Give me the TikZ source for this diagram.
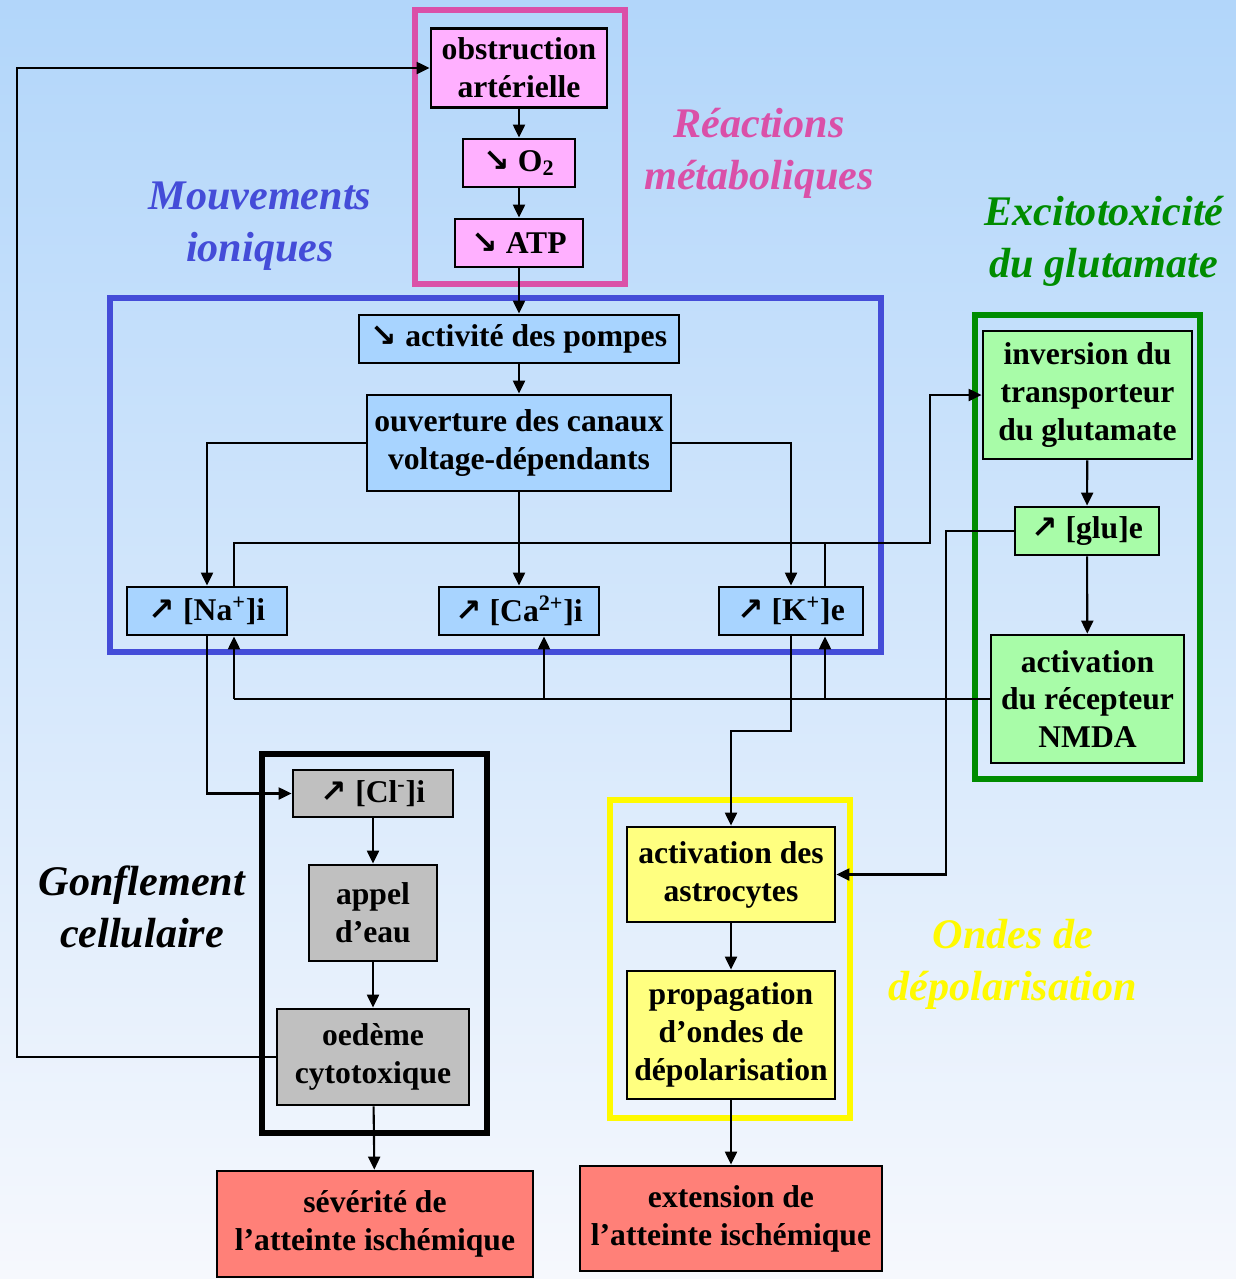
\documentclass[tikz,border=0pt]{standalone}
\usepackage{fontspec}
\setmainfont{Liberation Serif}
\newfontfamily\arrowfont{DejaVu Sans}
\usetikzlibrary{arrows.meta}

\definecolor{bgtop}{RGB}{178,214,250}
\definecolor{bgbot}{RGB}{246,248,253}
\definecolor{metab}{RGB}{218,80,168}
\definecolor{ionic}{RGB}{68,76,216}
\definecolor{excito}{RGB}{0,140,0}
\definecolor{ondes}{RGB}{255,250,0}
\definecolor{pinkfill}{RGB}{255,176,255}
\definecolor{bluefill}{RGB}{168,212,255}
\definecolor{greenfill}{RGB}{168,252,168}
\definecolor{greyfill}{RGB}{192,192,192}
\definecolor{yellowfill}{RGB}{255,255,128}
\definecolor{redfill}{RGB}{255,128,120}

\newcommand{\baisse}{{\arrowfont\char"2198}}
\newcommand{\hausse}{{\arrowfont\char"2197}}

\begin{document}
\begin{tikzpicture}[x=0.02cm,y=-0.02cm,
  box/.style={draw=black,line width=1.6pt,inner sep=0pt,align=center,
    font=\fontsize{18}{21.6}\selectfont\bfseries},
  pinkbox/.style={box,fill=pinkfill},
  bluebox/.style={box,fill=bluefill},
  greenbox/.style={box,fill=greenfill},
  greybox/.style={box,fill=greyfill},
  yellowbox/.style={box,fill=yellowfill},
  redbox/.style={box,fill=redfill},
  frame/.style={line width=3.2pt},
  title/.style={align=center,font=\fontsize{24}{29.5}\selectfont\bfseries\itshape},
  link/.style={line width=1.2pt,-{Triangle[length=0.26cm,width=0.24cm]}},
  plain/.style={line width=1.2pt}]

\useasboundingbox (0,0) rectangle (1236,1279);
\shade[top color=bgtop,bottom color=bgbot] (0,0) rectangle (1236,1279);

% group frames
\draw[frame,metab] (415,10) rectangle (625,284);
\draw[frame,ionic] (110,298) rectangle (881,652);
\draw[frame,excito] (975,315) rectangle (1200,779);
\draw[frame,black,line width=3.6pt] (262,754) rectangle (487,1133);
\draw[frame,ondes] (610,800) rectangle (850,1118);

% group titles
\node[title,metab] (tMetab) at (759,153) {Réactions\\métaboliques};
\node[title,ionic] (tIonic) at (260,226) {Mouvements\\ioniques};
\node[title,excito] (tExcito) at (1104,241) {Excitotoxicité\\du glutamate};
\node[title,black] (tGonfl) at (142,907) {Gonflement\\cellulaire};
\node[title,ondes] (tOndes) at (1013,964) {Ondes de\\dépolarisation};

% metabolic
\node[pinkbox,minimum width=3.52cm,minimum height=1.58cm] (obs) at (519,68) {obstruction\\artérielle};
\node[pinkbox,minimum width=2.24cm,minimum height=0.96cm] (o2) at (519,163) {\baisse{} O\textsubscript{2}};
\node[pinkbox,minimum width=2.56cm,minimum height=0.96cm] (atp) at (519,243) {\baisse{} ATP};

% ionic
\node[bluebox,minimum width=6.4cm,minimum height=0.96cm] (pompes) at (519,339) {\baisse{} activité des pompes};
\node[bluebox,minimum width=6.08cm,minimum height=1.92cm] (canaux) at (519,443) {ouverture des canaux\\voltage-dépendants};
\node[bluebox,minimum width=3.2cm,minimum height=0.96cm] (na) at (207,611) {\hausse{} [Na\textsuperscript{+}]i};
\node[bluebox,minimum width=3.2cm,minimum height=0.96cm] (ca) at (519,611) {\hausse{} [Ca\textsuperscript{2+}]i};
\node[bluebox,minimum width=2.88cm,minimum height=0.96cm] (k) at (791,611) {\hausse{} [K\textsuperscript{+}]e};

% glutamate
\node[greenbox,minimum width=4.18cm,minimum height=2.56cm] (inv) at (1087.5,395) {inversion du\\transporteur\\du glutamate};
\node[greenbox,minimum width=2.88cm,minimum height=0.96cm] (glu) at (1087,531) {\hausse{} [glu]e};
\node[greenbox,minimum width=3.86cm,minimum height=2.56cm] (nmda) at (1087.5,699) {activation\\du récepteur\\NMDA};

% swelling
\node[greybox,minimum width=3.2cm,minimum height=0.94cm] (cl) at (373,793.5) {\hausse{} [Cl\textsuperscript{-}]i};
\node[greybox,minimum width=2.56cm,minimum height=1.92cm] (eau) at (373,913) {appel\\d’eau};
\node[greybox,minimum width=3.84cm,minimum height=1.92cm] (oed) at (373,1057) {oedème\\cytotoxique};

% depolarisation
\node[yellowbox,minimum width=4.16cm,minimum height=1.9cm] (astro) at (731,874.5) {activation des\\astrocytes};
\node[yellowbox,minimum width=4.16cm,minimum height=2.56cm] (prop) at (731,1035) {propagation\\d’ondes de\\dépolarisation};

% outcomes
\node[redbox,minimum width=6.32cm,minimum height=2.12cm] (sev) at (375,1224) {sévérité de\\l’atteinte ischémique};
\node[redbox,minimum width=6.04cm,minimum height=2.1cm] (ext) at (731,1218.5) {extension de\\l’atteinte ischémique};

% routing points
\coordinate (jNa) at (234,543);
\coordinate (jK) at (825,543);
\coordinate (jInv) at (930,543);
\coordinate (bNa) at (234,699);
\coordinate (bCa) at (544,699);
\coordinate (bK) at (825,699);
\coordinate (kBend) at (731,731);
\coordinate (gBend) at (946,531);
\coordinate (loop) at (17,1057);

% connectors
\draw[link] (obs) -- (o2);
\draw[link] (o2) -- (atp);
\draw[link] (atp) -- (pompes);
\draw[link] (pompes) -- (canaux);
\draw[link] (canaux) -- (ca);
\draw[link] (canaux.west) -| (na.north);
\draw[link] (canaux.east) -| (k.north);
\draw[link] (na.north -| jNa) -- (jNa) -- (jInv) |- (inv.west);
\draw[plain] (k.north -| jK) -- (jK);
\draw[link] (inv) -- (glu);
\draw[link] (glu) -- (nmda);
\draw[plain] (nmda.west) -- (bNa);
\draw[link] (bNa) -- (na.south -| bNa);
\draw[link] (bCa) -- (ca.south -| bCa);
\draw[link] (bK) -- (k.south -| bK);
\draw[link] (glu.west) -- (gBend) |- (astro.east);
\draw[link] (na.south) |- (cl.west);
\draw[link] (k.south) |- (kBend) -- (astro.north);
\draw[link] (cl) -- (eau);
\draw[link] (eau) -- (oed);
\draw[link] (oed) -- (sev);
\draw[link] (oed.west) -- (loop) |- (obs.west);
\draw[link] (astro) -- (prop);
\draw[link] (prop) -- (ext);
\end{tikzpicture}
\end{document}
